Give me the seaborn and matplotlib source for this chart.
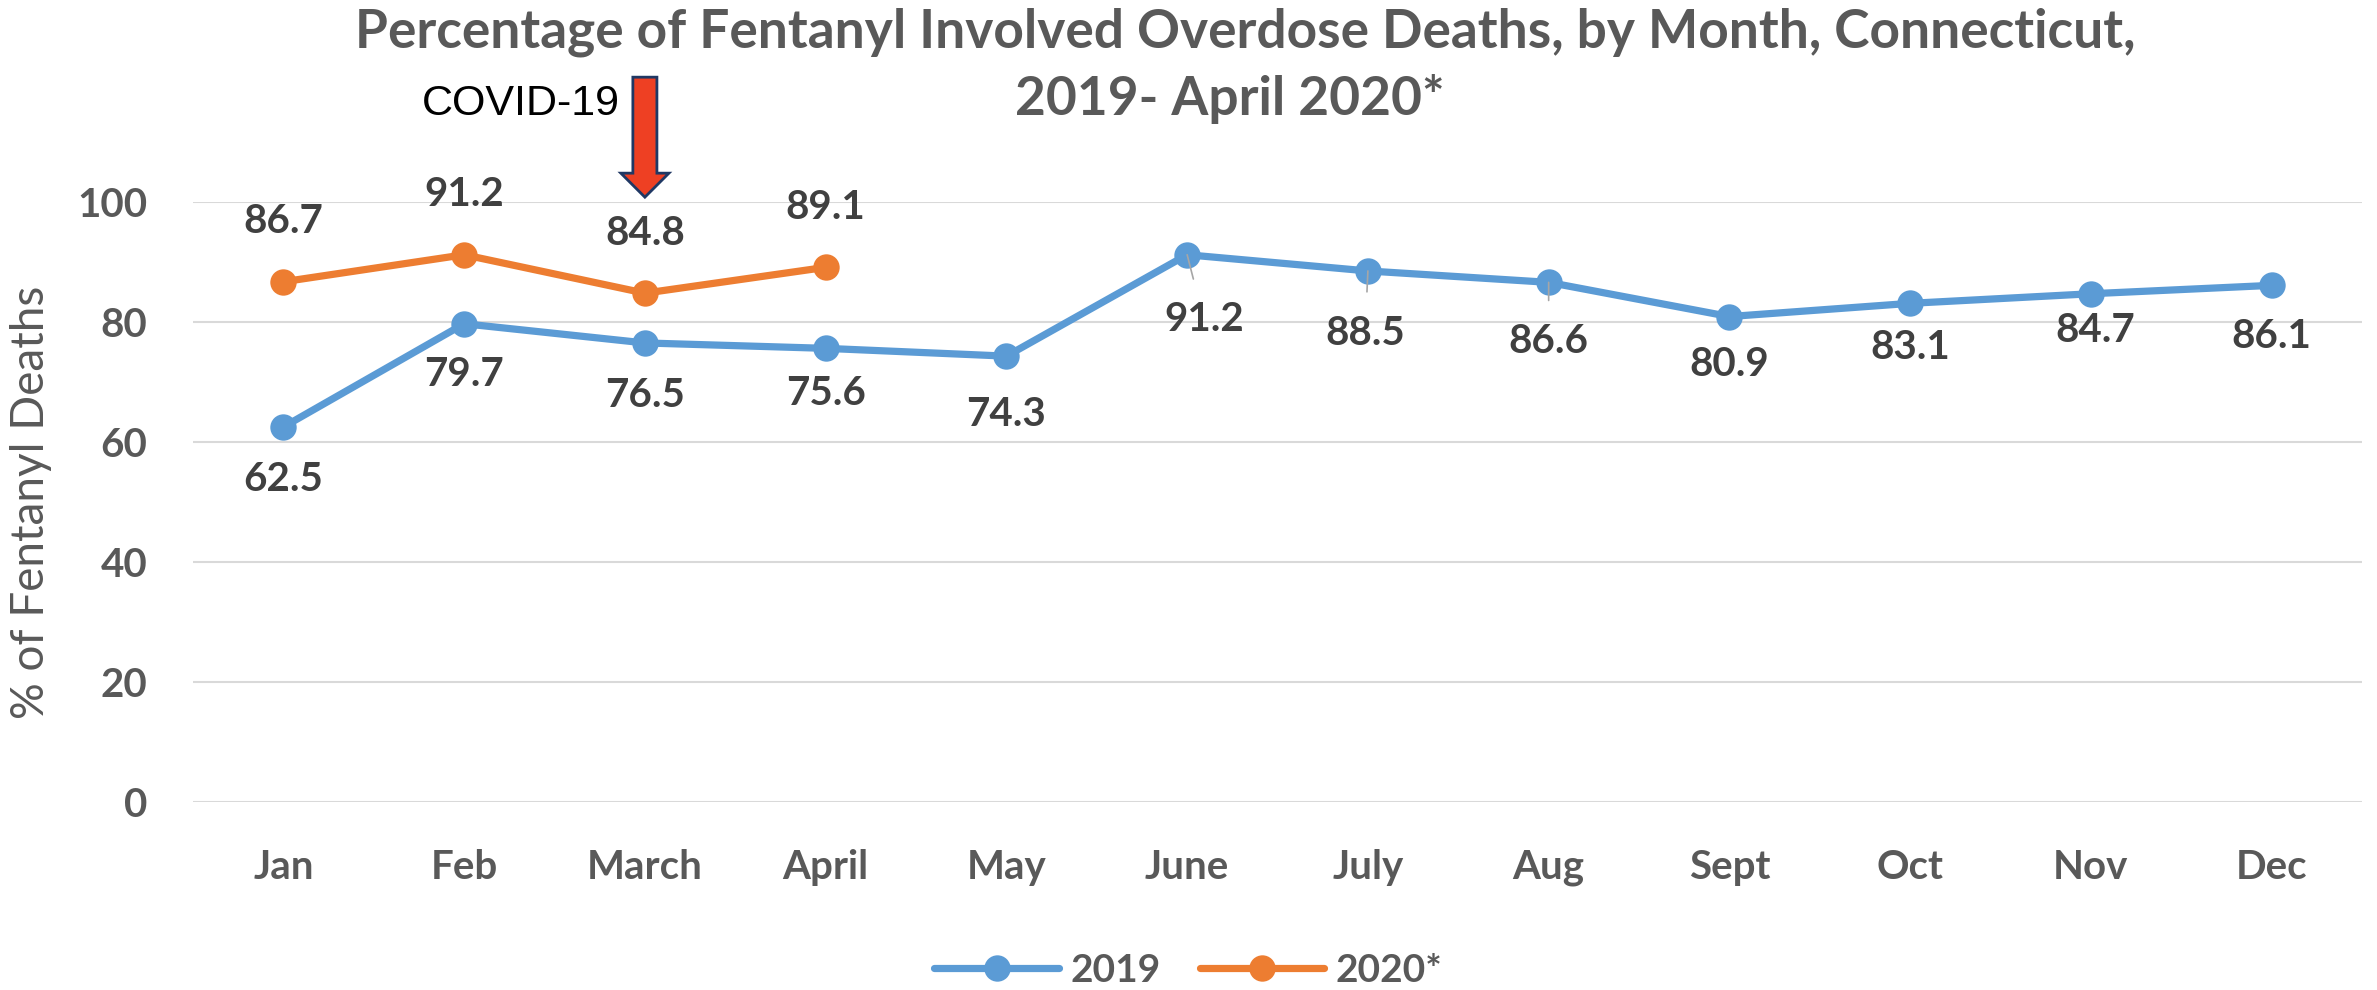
import numpy as np
import pandas as pd
import matplotlib
matplotlib.use("Agg")
import matplotlib.pyplot as plt
from matplotlib.patches import FancyArrow
from matplotlib.lines import Line2D
import seaborn as sns

# data
months = ["Jan", "Feb", "March", "April", "May", "June",
          "July", "Aug", "Sept", "Oct", "Nov", "Dec"]
pct_2019 = [62.5, 79.7, 76.5, 75.6, 74.3, 91.2, 88.5, 86.6, 80.9, 83.1, 84.7, 86.1]
pct_2020 = [86.7, 91.2, 84.8, 89.1]
yticks = [0, 20, 40, 60, 80, 100]
covid_month = "March"

# label placement (points below/above each marker), as in the reference
label_dy_2019 = [-46, -45, -46, -41, -50, -55, -53, -51, -43, -40, -35, -45]
label_dx_2019 = [0, 0, 0, 0, 0, 12, -2, 0, 0, 0, 3, 0]
leader_months = ["June", "July", "Aug"]

BLUE = "#5B9BD5"
ORANGE = "#ED7D31"
GRAY = "#595959"
DARK = "#404040"

sns.set_theme(style="white")
plt.rcParams["font.family"] = ["Lato", "DejaVu Sans"]

fig = plt.figure(figsize=(23.77, 9.9), dpi=100)
ax = fig.add_axes([0.0812, 0.19, 0.9125, 0.606])

df19 = pd.DataFrame({"pos": np.arange(len(pct_2019)), "pct": pct_2019})
df20 = pd.DataFrame({"pos": np.arange(len(pct_2020)), "pct": pct_2020})

sns.lineplot(data=df19, x="pos", y="pct", ax=ax, color=BLUE, lw=5.2,
             marker="o", markersize=19, markeredgewidth=0, zorder=3, clip_on=False)
sns.lineplot(data=df20, x="pos", y="pct", ax=ax, color=ORANGE, lw=5.2,
             marker="o", markersize=19, markeredgewidth=0, zorder=3, clip_on=False)

ax.set_xlim(-0.5, len(months) - 0.5)
ax.set_ylim(0, 100)
ax.set_xticks(np.arange(len(months)))
ax.set_xticklabels(months)
ax.set_yticks(yticks)
ax.yaxis.grid(True, color="#D9D9D9", lw=1.5)
ax.xaxis.grid(False)
for s in ax.spines.values():
    s.set_visible(False)
ax.tick_params(axis="x", length=0, pad=34, labelsize=29, labelcolor=GRAY)
ax.tick_params(axis="y", length=0, pad=33, labelsize=29, labelcolor=GRAY)
for lab in ax.get_xticklabels() + ax.get_yticklabels():
    lab.set_fontweight("bold")
ax.set_xlabel("")
ax.set_ylabel("% of Fentanyl Deaths", fontsize=33, color=GRAY)
ax.yaxis.set_label_coords(-0.065, 0.5)

# data labels: 2019 below, 2020 above
for i, v in enumerate(pct_2019):
    kw = {}
    if months[i] in leader_months:
        kw["arrowprops"] = dict(arrowstyle="-", color="#A6A6A6", lw=1.2,
                                shrinkA=14, shrinkB=0)
    ax.annotate(f"{v:.1f}", (i, v), xytext=(label_dx_2019[i], label_dy_2019[i]),
                textcoords="offset points", ha="center", va="baseline",
                fontsize=29, fontweight="bold", color=DARK,
                annotation_clip=False, zorder=5, **kw)
for i, v in enumerate(pct_2020):
    ax.annotate(f"{v:.1f}", (i, v), xytext=(0, 35), textcoords="offset points",
                ha="center", va="baseline", fontsize=29, fontweight="bold", color=DARK,
                annotation_clip=False)

# COVID-19 arrow
cx = months.index(covid_month)
ax.add_patch(FancyArrow(cx, 120.8, 0, -20, width=0.133, head_width=0.266,
                        head_length=4, length_includes_head=True,
                        fc="#EE4023", ec="#203864", lw=2, clip_on=False, zorder=6))
ax.text(cx - 0.14, 114.5, "COVID-19", ha="right", va="baseline", fontsize=31,
        color="black", family=["Liberation Sans", "DejaVu Sans"])

fig.text(0.524, 0.967, "Percentage of Fentanyl Involved Overdose Deaths, by Month, Connecticut,",
         ha="center", va="center", fontsize=38.3, fontweight="bold", color=GRAY)
fig.text(0.5175, 0.900, "2019- April 2020*",
         ha="center", va="center", fontsize=38.3, fontweight="bold", color=GRAY)

handles = [Line2D([], [], color=BLUE, lw=5.2, marker="o", markersize=19, markeredgewidth=0),
           Line2D([], [], color=ORANGE, lw=5.2, marker="o", markersize=19, markeredgewidth=0)]
leg = fig.legend(handles, ["2019", "2020*"], loc="center", bbox_to_anchor=(0.5, 0.02),
                 ncol=2, frameon=False, handlelength=3.2, columnspacing=1.0,
                 handletextpad=0.3, prop={"size": 28, "weight": "bold"})
for t in leg.get_texts():
    t.set_color(GRAY)

fig.savefig("out.png", dpi=100)
